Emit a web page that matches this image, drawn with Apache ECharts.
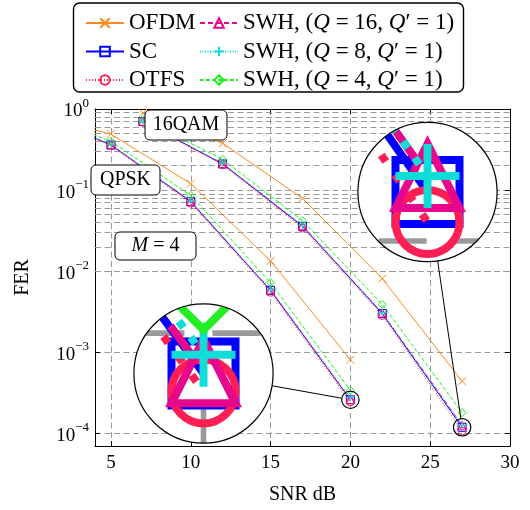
<!DOCTYPE html>
<html><head><meta charset="utf-8">
<script src="https://cdn.jsdelivr.net/npm/echarts@6/dist/echarts.min.js"></script>
<style>html,body{margin:0;padding:0;background:#fff}#c{width:530px;height:510px}</style>
</head><body><div id="c"></div>
<script>
// ---------- data ----------
const snrQPSK  = [0, 5, 10, 15, 20];
const snr16QAM = [7, 12, 17, 22, 27];

const ofdmQPSK  = [0.87, 0.49, 0.12, 0.0134, 8.1e-4];
const scQPSK    = [0.93, 0.36, 0.072, 5.8e-3, 2.6e-4];
const otfsQPSK  = [0.93, 0.355, 0.069, 5.5e-3, 2.44e-4];
const swh16QPSK = [0.93, 0.362, 0.0725, 5.85e-3, 2.62e-4];
const swh8QPSK  = [0.935, 0.368, 0.074, 6.0e-3, 2.78e-4];
const swh4QPSK  = [0.94, 0.40, 0.086, 7.2e-3, 3.4e-4];

const ofdm16QAM  = [0.89, 0.377, 0.079, 8.1e-3, 4.4e-4];
const sc16QAM    = [0.70, 0.21, 0.0358, 3.0e-3, 1.19e-4];
const otfs16QAM  = [0.69, 0.205, 0.034, 2.85e-3, 1.07e-4];
const swh1616QAM = [0.70, 0.212, 0.0362, 3.05e-3, 1.26e-4];
const swh816QAM  = [0.71, 0.215, 0.037, 3.1e-3, 1.26e-4];
const swh416QAM  = [0.74, 0.24, 0.042, 3.9e-3, 1.8e-4];

const xTicks = [5, 10, 15, 20, 25, 30];
const yMin = 7e-5, yMax = 1;
const yDecades = [-5, -4, -3, -2, -1];
const yMinorMult = [2, 3, 4, 5, 6, 7, 8, 9];

const names = ['OFDM', 'SC', 'OTFS', 'SWH, (Q = 16, Q′ = 1)', 'SWH, (Q = 8, Q′ = 1)', 'SWH, (Q = 4, Q′ = 1)'];
// ---------- styles ----------
const FONT = 'Liberation Serif';
const GRID = '#9a9a9a';
const styles = [
  {color:'#fb8a1e', dash:'solid', sym:'cross'},
  {color:'#0000ff', dash:'solid', sym:'rect'},
  {color:'#ff1f55', dash:[1,2], sym:'circle'},
  {color:'#e6078c', dash:[5,3], sym:'triangle'},
  {color:'#10dcd8', dash:[1,1.5], sym:'plus'},
  {color:'#22ee22', dash:[4,2], sym:'diamond'}
];
const symPath = {
  cross:'path://M0,0L10,10M0,10L10,0',
  plus:'path://M5,0L5,10M0,5L10,5',
  rect:'rect', circle:'circle', triangle:'triangle', diamond:'diamond'
};
const SYM = 8;

const groups = [
  {x: snrQPSK, ys: [ofdmQPSK, scQPSK, otfsQPSK, swh16QPSK, swh8QPSK, swh4QPSK]},
  {x: snr16QAM, ys: [ofdm16QAM, sc16QAM, otfs16QAM, swh1616QAM, swh816QAM, swh416QAM]}
];
const curves = [];
groups.forEach(g => g.ys.forEach((y, k) => curves.push({k, x: g.x, y})));
curves.sort((a,b)=>a.k-b.k);

const minorVals = [];
yDecades.forEach(e => yMinorMult.forEach(m => {
  const v = +(m * Math.pow(10, e)).toPrecision(6);
  if (v > yMin && v < yMax) minorVals.push(v);
}));
const majorVals = [1e-4, 1e-3, 1e-2, 1e-1];

// spy (magnifier) layout
const spyData = [[snrQPSK[4], scQPSK[4]], [snr16QAM[4], sc16QAM[4]]];
const spyPos = [{cx:203.5, cy:373.5}, {cx:427.5, cy:192}];
const SPY_R = 8.7, MAG = 8;

function markerEl(sym, p, c, s) {
  const h = s/2, x = p[0], y = p[1];
  const st = {fill:'none', stroke:c, lineWidth:1};
  if (sym === 'rect') return {type:'rect', shape:{x:x-h, y:y-h, width:s, height:s}, style:st};
  if (sym === 'circle') return {type:'circle', shape:{cx:x, cy:y, r:h}, style:st};
  if (sym === 'triangle') return {type:'polygon', shape:{points:[[x,y-h],[x+h,y+h],[x-h,y+h]]}, style:st};
  if (sym === 'diamond') return {type:'polygon', shape:{points:[[x,y-h],[x+h,y],[x,y+h],[x-h,y]]}, style:st};
  if (sym === 'plus') return {type:'group', children:[
    {type:'line', shape:{x1:x-h,y1:y,x2:x+h,y2:y}, style:st},
    {type:'line', shape:{x1:x,y1:y-h,x2:x,y2:y+h}, style:st}]};
  return {type:'group', children:[
    {type:'line', shape:{x1:x-h,y1:y-h,x2:x+h,y2:y+h}, style:st},
    {type:'line', shape:{x1:x-h,y1:y+h,x2:x+h,y2:y-h}, style:st}]};
}

function renderSpy(params, api) {
  const i = params.dataIndex;
  const p = api.coord([api.value(0), api.value(1)]);
  const px = p[0], py = p[1];
  const pos = spyPos[i];
  const ch = [];
  ch.push({type:'circle', shape:{cx:px, cy:py, r:SPY_R*2}, style:{fill:'#fff'}});
  xTicks.forEach(x => {
    const a = api.coord([x, yMax]), b = api.coord([x, yMin]);
    ch.push({type:'line', shape:{x1:a[0],y1:a[1],x2:b[0],y2:b[1]}, style:{stroke:GRID, lineWidth:0.7, lineDash:[6,3.5]}});
  });
  majorVals.concat(minorVals).forEach(v => {
    const a = api.coord([4, v]), b = api.coord([30, v]);
    ch.push({type:'line', shape:{x1:a[0],y1:a[1],x2:b[0],y2:b[1]}, style:{stroke:GRID, lineWidth:0.7, lineDash:[6,3.5]}});
  });
  curves.forEach(cv => {
    const st = styles[cv.k];
    const pts = cv.x.map((x, j) => api.coord([x, cv.y[j]]));
    ch.push({type:'polyline', shape:{points:pts}, style:{stroke:st.color, lineWidth:1, fill:null, lineDash: st.dash === 'solid' ? null : st.dash}});
    pts.forEach(pt => ch.push(markerEl(st.sym, pt, st.color, SYM)));
  });
  const dx = pos.cx - px, dy = pos.cy - py, d = Math.sqrt(dx*dx + dy*dy);
  const ux = dx/d, uy = dy/d, R = SPY_R*MAG;
  return {type:'group', children:[
    {type:'group', x: pos.cx - px, y: pos.cy - py, originX: px, originY: py, scaleX: MAG, scaleY: MAG,
     clipPath:{type:'circle', shape:{cx:px, cy:py, r:SPY_R}}, children: ch},
    {type:'circle', shape:{cx:pos.cx, cy:pos.cy, r:R}, style:{fill:'none', stroke:'#000', lineWidth:1.2}},
    {type:'circle', shape:{cx:px, cy:py, r:SPY_R}, style:{fill:'none', stroke:'#000', lineWidth:1.2}},
    {type:'line', shape:{x1:px+ux*SPY_R, y1:py+uy*SPY_R, x2:pos.cx-ux*R, y2:pos.cy-uy*R}, style:{stroke:'#000', lineWidth:1}}
  ]};
}

// ---------- series ----------
const series = [{
  type:'line', name:'_grid', data:[], silent:true, z:1,
  markLine:{silent:true, symbol:['none','none'], z:1, animation:false, label:{show:false},
    lineStyle:{color:GRID, width:1, type:[6,3.5]},
    data: minorVals.map(v => ({yAxis: v}))}
}];
curves.forEach(cv => {
  const st = styles[cv.k];
  series.push({
    type:'line', name: names[cv.k],
    data: cv.x.map((x, j) => [x, cv.y[j]]),
    symbol: symPath[st.sym], symbolSize: SYM, showAllSymbol:true,
    lineStyle:{color:st.color, width:1, type:st.dash},
    itemStyle:{color:'rgba(0,0,0,0)', borderColor:st.color, borderWidth:1},
    emphasis:{disabled:true}, animation:false, z:2
  });
});
series.push({
  type:'custom', coordinateSystem:'cartesian2d', data: spyData, renderItem: renderSpy,
  clip:false, silent:true, z:10, animation:false, encode:{x:0, y:1}
});

const legendRich = {i:{fontStyle:'italic', fontFamily:FONT, fontSize:23, color:'#000'}};
const legendFmt = n => n.replace(/Q/g, '{i|Q}');
const legendCommon = {
  orient:'vertical', top:6, itemWidth:38, itemHeight:12, itemGap:4.5,
  textStyle:{fontFamily:FONT, fontSize:23, color:'#000', lineHeight:24, rich:legendRich},
  formatter: legendFmt, selectedMode:false
};

const supLabel = v => {
  const l = Math.log10(v), r = Math.round(l);
  if (Math.abs(l - r) > 1e-6) return '';
  return '{b|10}{s|' + (r === 0 ? '0' : '−' + (-r)) + '}';
};

const option = {
  animation:false,
  backgroundColor:'#fff',
  grid:{left:95, right:20, top:109, bottom:58},
  legend:[
    Object.assign({}, legendCommon, {left:80, data:names.slice(0,3)}),
    Object.assign({}, legendCommon, {left:194, data:names.slice(3)})
  ],
  xAxis:[{
    type:'value', min:4, max:30, splitNumber:5,
    name:'SNR dB', nameLocation:'middle', nameGap:39,
    nameTextStyle:{fontFamily:FONT, fontSize:20, color:'#000'},
    axisLine:{show:true, lineStyle:{color:'#000', width:1}},
    axisTick:{show:true, inside:true, length:5, lineStyle:{color:'#000'}},
    axisLabel:{fontFamily:FONT, fontSize:19, color:'#000', margin:8, showMinLabel:false,
      formatter: v => xTicks.indexOf(v) >= 0 ? String(v) : ''},
    splitLine:{show:true, lineStyle:{color:GRID, width:1, type:[6,3.5]}}
  },{
    type:'value', min:4, max:30, splitNumber:5, position:'top',
    axisLine:{show:true, lineStyle:{color:'#000', width:1}},
    axisTick:{show:true, inside:true, length:5, lineStyle:{color:'#000'}},
    axisLabel:{show:false}, splitLine:{show:false}
  }],
  yAxis:[{
    type:'log', logBase:10, min:yMin, max:yMax,
    name:'FER', nameLocation:'middle', nameGap:62, nameRotate:90,
    nameTextStyle:{fontFamily:FONT, fontSize:20, color:'#000'},
    axisLine:{show:true, lineStyle:{color:'#000', width:1}},
    axisTick:{show:true, inside:true, length:5, lineStyle:{color:'#000'}},
    axisLabel:{formatter:supLabel, margin:6, showMinLabel:false,
      rich:{b:{fontFamily:FONT, fontSize:19, color:'#000', lineHeight:24, verticalAlign:'bottom'},
            s:{fontFamily:FONT, fontSize:13, color:'#000', lineHeight:13, verticalAlign:'top'}}},
    splitLine:{show:true, lineStyle:{color:GRID, width:1, type:[6,3.5]}}
  },{
    type:'log', logBase:10, min:yMin, max:yMax, position:'right',
    axisLine:{show:true, lineStyle:{color:'#000', width:1}},
    axisTick:{show:true, inside:true, length:5, lineStyle:{color:'#000'}},
    axisLabel:{show:false}, splitLine:{show:false}
  }],
  series: series,
  graphic:[
    {type:'rect', z:3, shape:{x:73.5, y:3, width:390, height:89, r:6}, style:{fill:'#fff', stroke:'#000', lineWidth:1.4}},
    {type:'rect', z:50, shape:{x:145, y:110, width:82, height:30, r:5}, style:{fill:'#fff', stroke:'#000', lineWidth:1}},
    {type:'text', z:51, x:186, y:125, style:{text:'16QAM', font:'20px "Liberation Serif"', fill:'#000', align:'center', verticalAlign:'middle'}},
    {type:'rect', z:50, shape:{x:91, y:165, width:69, height:30, r:5}, style:{fill:'#fff', stroke:'#000', lineWidth:1}},
    {type:'text', z:51, x:125.5, y:180, style:{text:'QPSK', font:'20px "Liberation Serif"', fill:'#000', align:'center', verticalAlign:'middle'}},
    {type:'rect', z:50, shape:{x:115, y:232, width:81, height:28, r:5}, style:{fill:'#fff', stroke:'#000', lineWidth:1}},
    {type:'text', z:51, x:155.5, y:246, style:{text:'{i|M} = 4', font:'20px "Liberation Serif"', fill:'#000', align:'center', verticalAlign:'middle',
      rich:{i:{fontStyle:'italic', fontFamily:FONT, fontSize:20, fill:'#000'}}}}
  ]
};
const chart = echarts.init(document.getElementById('c'), null, {renderer:'canvas'});
chart.setOption(option);
</script>
</body></html>
